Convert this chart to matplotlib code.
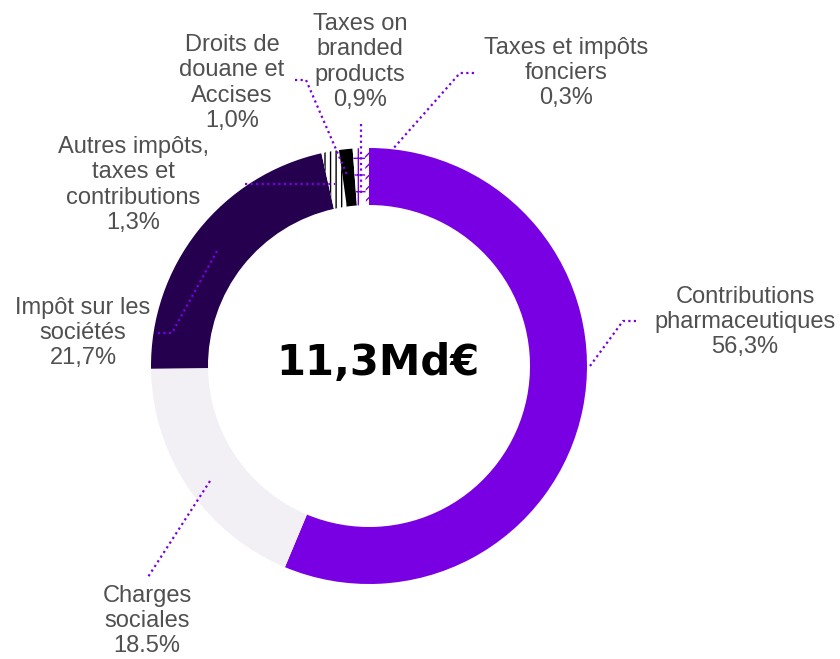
import matplotlib.pyplot as plt

plt.rcParams['font.family'] = ['Liberation Sans', 'DejaVu Sans']

# Répartition des 11,3 Md€ de prélèvements
labels = [
    "Contributions\npharmaceutiques\n56,3%",
    "Charges\nsociales\n18.5%",
    "Impôt sur les\nsociétés\n21,7%",
    "Autres impôts,\ntaxes et\ncontributions\n1,3%",
    "Droits de\ndouane et\nAccises\n1,0%",
    "Taxes on\nbranded\nproducts\n0,9%",
    "Taxes et impôts\nfonciers\n0,3%",
]
shares = [56.3, 18.5, 21.7, 1.3, 1.0, 0.9, 0.3]
total_label = "11,3Md€"

colors = ["#7800E2", "#F2F0F5", "#25004F", "white", "black", "white", "white"]
hatches = [None, None, None, "|||", None, "+", "///"]
hatch_colors = ["#7800E2", "#F2F0F5", "#25004F", "black", "black", "#7800E2", "#7800E2"]

W, H = 840, 659
fig = plt.figure(figsize=(W / 100, H / 100), dpi=100)
ax = fig.add_axes([0, 0, 1, 1])

cx, cy = 369, H - 366
wedges, _ = ax.pie(shares, center=(cx, cy), radius=218, startangle=90,
                   counterclock=False, colors=colors,
                   wedgeprops=dict(width=57, linewidth=0), frame=True)
for w, h, hc in zip(wedges, hatches, hatch_colors):
    if h:
        w.set_hatch(h)
        w.set_edgecolor(hc)
ax.set_xlim(0, W)
ax.set_ylim(0, H)
ax.set_aspect("equal")
ax.axis("off")

# label centres and leader paths (pixel coordinates, y from top)
text_pos = [(745, 322), (147, 621), (83, 333), (133, 185),
            (232, 83), (360, 62), (566, 73)]
leaders = [
    [(590, 366), (623, 321), (636, 321)],
    [(210, 481), (148, 577)],
    [(217, 251), (172, 333), (158, 333)],
    [(245, 184), (335, 184)],
    [(295, 80), (306, 80), (348, 177)],
    [(361, 124), (361, 196)],
    [(474, 73), (460, 73), (392, 150)],
]

txt_color = "#505050"
for lab, (tx, ty), path in zip(labels, text_pos, leaders):
    ax.text(tx, H - ty, lab, ha="center", va="center", fontsize=17,
            color=txt_color, linespacing=1.2)
    xs = [p[0] for p in path]
    ys = [H - p[1] for p in path]
    ax.plot(xs, ys, color="#7800E2", lw=1.6, linestyle=(0, (1, 1.5)))

ax.text(378, H - 363, total_label, ha="center", va="center", fontsize=30,
        fontweight="bold", color="black", family="DejaVu Sans")

fig.savefig("out.png", dpi=100)
